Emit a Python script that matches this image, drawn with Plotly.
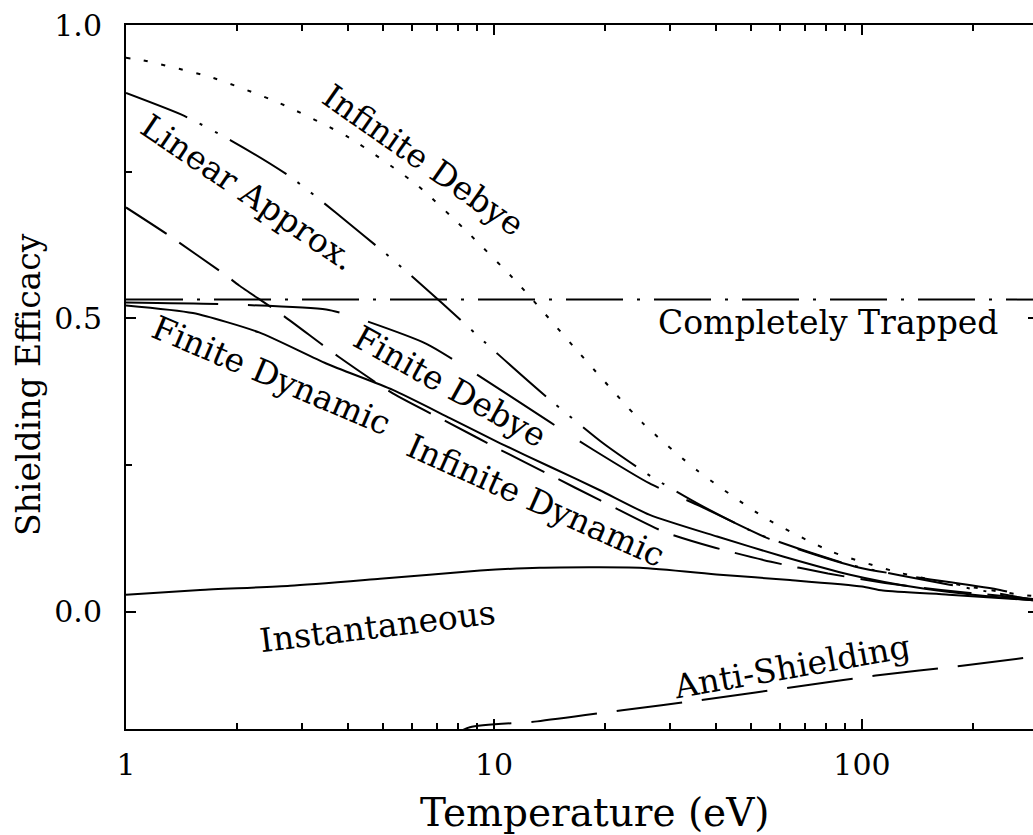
import math
import plotly.graph_objects as go

# ---------------- data (Temperature in eV, shielding efficacy) ----------------
T_inf_debye = [1, 1.11, 1.72, 2.61, 4.04, 6.21, 8.5, 11.6, 17.1, 25.4, 35.6, 54.5, 82.9, 127, 194, 269, 300]
v_inf_debye = [0.944, 0.940, 0.910, 0.867, 0.808, 0.726, 0.646, 0.560, 0.440, 0.321, 0.241, 0.160, 0.102, 0.066, 0.043, 0.029, 0.026]

T_linear = [1, 1.44, 1.93, 2.77, 3.72, 5.31, 7.22, 10.25, 13.9, 19.8, 26.8, 36.3, 52.8, 92.7, 173, 300]
v_linear = [0.884, 0.845, 0.803, 0.743, 0.680, 0.600, 0.526, 0.439, 0.366, 0.287, 0.230, 0.182, 0.131, 0.080, 0.046, 0.019]

T_trapped = [1, 300]
v_trapped = [0.532, 0.532]

T_fin_debye = [1, 1.87, 3.5, 4.14, 6.53, 8.45, 14.2, 18.6, 26.4, 36.3, 56, 98.6, 237, 300]
v_fin_debye = [0.527, 0.524, 0.515, 0.503, 0.457, 0.415, 0.323, 0.276, 0.219, 0.180, 0.124, 0.075, 0.037, 0.022]

T_fin_dyn = [1, 1.52, 2.30, 3.5, 5.31, 7.59, 10.4, 14.2, 19.4, 26.5, 40.4, 61.0, 92.8, 141, 213, 300]
v_fin_dyn = [0.522, 0.509, 0.476, 0.423, 0.378, 0.330, 0.287, 0.247, 0.207, 0.165, 0.128, 0.094, 0.063, 0.041, 0.027, 0.019]

T_inf_dyn = [1, 1.31, 1.87, 2.03, 2.67, 3.79, 5.31, 7.59, 10.4, 14.2, 19.4, 29.0, 39.9, 56.6, 80.8, 115.5, 164, 237, 300]
v_inf_dyn = [0.689, 0.641, 0.573, 0.556, 0.505, 0.434, 0.372, 0.321, 0.276, 0.233, 0.190, 0.136, 0.109, 0.085, 0.065, 0.049, 0.037, 0.027, 0.021]

T_instant = [1, 1.59, 2.79, 4.90, 9.17, 13.3, 24.9, 41.1, 63.7, 100, 114, 172, 300]
v_instant = [0.029, 0.037, 0.044, 0.056, 0.070, 0.075, 0.075, 0.063, 0.054, 0.043, 0.036, 0.029, 0.019]

T_anti = [7.5, 8.6, 13.1, 22.3, 36.3, 73, 109, 187, 300]
v_anti = [-0.215, -0.197, -0.187, -0.168, -0.151, -0.124, -0.109, -0.092, -0.076]

# curve labels: text, T, value, angle
label_text = ["Infinite Debye", "Linear Approx.", "Completely Trapped", "Finite Debye",
              "Finite Dynamic", "Infinite Dynamic", "Instantaneous", "Anti-Shielding"]
label_T = [6.45, 2.15, 80.9, 7.6, 2.49, 13.0, 4.81, 64.6]
label_v = [0.769, 0.714, 0.493, 0.383, 0.403, 0.190, -0.026, -0.093]
label_angle = [35, 34, 0, 29, 23, 24, -7, -10]

x_ticks = [1, 10, 100]
x_minor = [2, 3, 4, 5, 6, 7, 8, 9, 20, 30, 40, 50, 60, 70, 80, 90, 200, 300]
y_ticks = [0.0, 0.5, 1.0]
y_minor = [-0.25, 0.25, 0.75]

FONT = "DejaVu Serif"

fig = go.Figure()

def add(T, v, dash, name, yaxis="y"):
    fig.add_trace(go.Scatter(
        x=T, y=v, mode="lines", name=name, showlegend=False, yaxis=yaxis,
        line=dict(color="black", width=2, dash=dash, shape="spline", smoothing=0.6),
        hoverinfo="skip"))

add(T_inf_debye, v_inf_debye, "4px,14px", "Infinite Debye")
add(T_linear, v_linear, "66px,14px,3px,14px,3px,14px", "Linear Approx.")
add(T_trapped, v_trapped, "57px,14px,3px,14px", "Completely Trapped", yaxis="y2")
add(T_fin_debye, v_fin_debye, "92px,30px", "Finite Debye")
add(T_fin_dyn, v_fin_dyn, "solid", "Finite Dynamic")
add(T_inf_dyn, v_inf_dyn, "48px,16px", "Infinite Dynamic")
add(T_instant, v_instant, "solid", "Instantaneous")
add(T_anti, v_anti, "66px,20px", "Anti-Shielding")

for txt, t, v, a in zip(label_text, label_T, label_v, label_angle):
    fig.add_annotation(x=math.log10(t), y=v, xref="x", yref="y", text=txt,
                       showarrow=False, textangle=a, xanchor="center", yanchor="middle",
                       font=dict(family=FONT, size=33, color="black"))

# axis titles
fig.add_annotation(x=(595 - 126) / 907, y=(729 - 812) / 704, xref="paper", yref="paper",
                   text="Temperature (eV)", showarrow=False, xanchor="center", yanchor="middle",
                   font=dict(family=FONT, size=39, color="black"))
fig.add_annotation(x=(28 - 126) / 907, y=(729 - 385) / 704, xref="paper", yref="paper",
                   text="Shielding Efficacy", showarrow=False, textangle=-90,
                   xanchor="center", yanchor="middle",
                   font=dict(family=FONT, size=33, color="black"))

x_max = 2.4647

fig.update_layout(
    width=1033, height=835,
    margin=dict(l=126, r=0, t=25, b=106),
    paper_bgcolor="white", plot_bgcolor="white",
    font=dict(family=FONT, color="black"),
    xaxis=dict(type="log", range=[0, x_max], tickvals=x_ticks, ticktext=[str(v) for v in x_ticks],
               ticks="inside", ticklen=10, tickwidth=2, tickcolor="black",
               showline=True, linewidth=2, linecolor="black", mirror="ticks",
               showgrid=False, zeroline=False, ticklabelstandoff=8,
               tickfont=dict(family=FONT, size=30, color="black"),
               minor=dict(tickmode="array", tickvals=x_minor, ticks="inside", ticklen=6,
                          tickwidth=2, tickcolor="black", showgrid=False)),
    yaxis=dict(range=[-0.2, 1.0], tickvals=y_ticks, ticktext=["0.0", "0.5", "1.0"],
               ticks="inside", ticklen=10, tickwidth=2, tickcolor="black",
               showline=True, linewidth=2, linecolor="black", mirror=False,
               showgrid=False, zeroline=False, ticklabelstandoff=16,
               tickfont=dict(family=FONT, size=30, color="black"),
               minor=dict(tickmode="array", tickvals=y_minor, ticks="inside", ticklen=6,
                          tickwidth=2, tickcolor="black", showgrid=False)),
    yaxis2=dict(range=[-0.2, 1.0], overlaying="y", side="right", anchor="x",
                tickvals=y_ticks, ticks="inside", ticklen=5, tickwidth=2, tickcolor="black",
                showticklabels=False, showline=False, showgrid=False, zeroline=False),
)

fig.write_html("out.html")
